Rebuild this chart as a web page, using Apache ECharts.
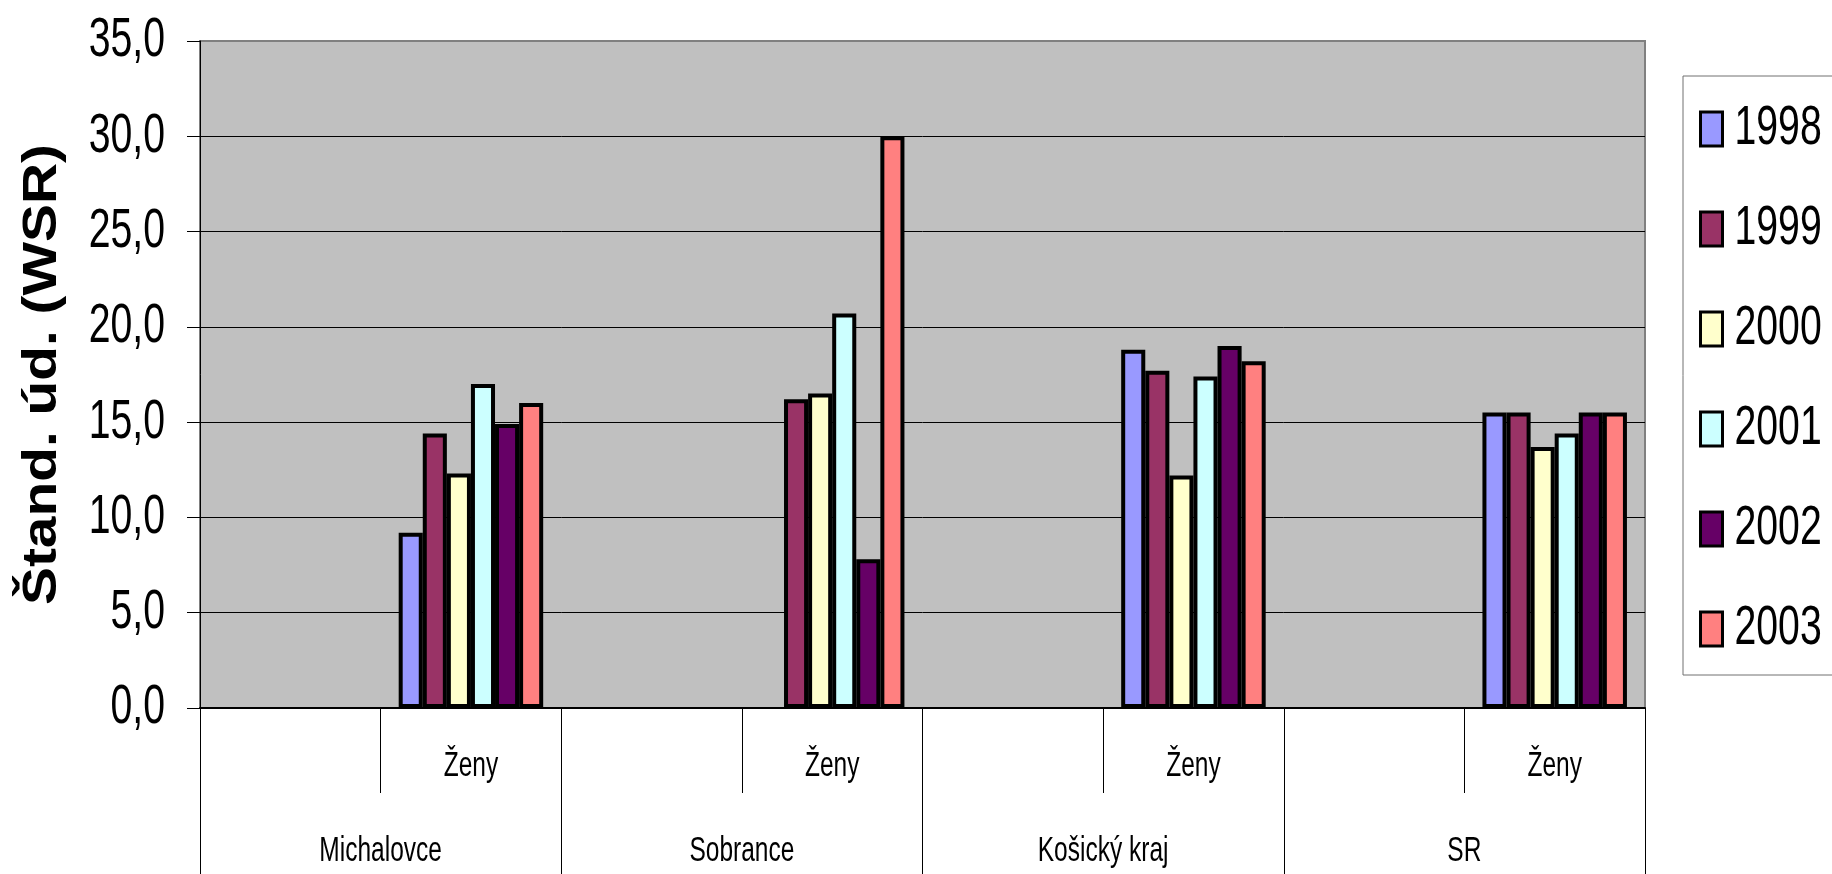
<!DOCTYPE html>
<html>
<head>
<meta charset="utf-8">
<script src="https://cdn.jsdelivr.net/npm/echarts@6/dist/echarts.min.js"></script>
<style>
  html, body { margin: 0; padding: 0; background: #ffffff; }
  #chart { width: 1832px; height: 874px; }
</style>
</head>
<body>
<div id="chart"></div>
<script>
// ---- data ----
const regions = ['Michalovce', 'Sobrance', 'Košický kraj', 'SR'];
const subCategories = ['', 'Ženy', '', 'Ženy', '', 'Ženy', '', 'Ženy'];
const years = ['1998', '1999', '2000', '2001', '2002', '2003'];
const v1998 = [null, 9.2, null, null, null, 18.8, null, 15.5];
const v1999 = [null, 14.4, null, 16.2, null, 17.7, null, 15.5];
const v2000 = [null, 12.3, null, 16.5, null, 12.2, null, 13.7];
const v2001 = [null, 17.0, null, 20.7, null, 17.4, null, 14.4];
const v2002 = [null, 14.9, null, 7.8, null, 19.0, null, 15.5];
const v2003 = [null, 16.0, null, 30.0, null, 18.2, null, 15.5];
const yearValues = [v1998, v1999, v2000, v2001, v2002, v2003];
const yearColors = ['#9999FF', '#993366', '#FFFFCC', '#CCFFFF', '#660066', '#FF8080'];
const yAxisTitle = 'Štand. úd. (WSR)';

const sans = "'Liberation Sans', Arial, sans-serif";

const chart = echarts.init(document.getElementById('chart'), null, { renderer: 'canvas' });

const series = years.map((y, i) => ({
  name: y,
  type: 'bar',
  xAxisIndex: 0,
  yAxisIndex: 0,
  data: yearValues[i],
  barGap: '0%',
  barCategoryGap: '20%',
  itemStyle: { color: yearColors[i], borderColor: '#000000', borderWidth: 4 },
  emphasis: { disabled: true },
  animation: false
}));

const option = {
  animation: false,
  grid: {
    left: 200, top: 41, right: 187, bottom: 166,
    outerBoundsMode: 'none',
    containLabel: false,
    show: true,
    backgroundColor: '#C0C0C0',
    borderColor: '#808080',
    borderWidth: 2
  },
  legend: {
    orient: 'vertical',
    left: 1683,
    top: 76,
    padding: [25, 200, 18, 16],
    itemGap: 44,
    itemWidth: 22,
    itemHeight: 34,
    backgroundColor: '#ffffff',
    borderColor: '#707070',
    borderWidth: 1,
    borderRadius: 0,
    icon: 'rect',
    selectedMode: false,
    itemStyle: { borderColor: '#000000', borderWidth: 3 },
    textStyle: { fontFamily: sans, fontSize: 56, color: '#000000', padding: [0, 0, 0, 10] },
    data: years
  },
  xAxis: [
    {
      type: 'category',
      gridIndex: 0,
      position: 'bottom',
      data: subCategories,
      axisLine: { show: true, lineStyle: { color: '#000000', width: 2 } },
      axisTick: { show: true, length: 85, lineStyle: { color: '#000000', width: 1 } },
      axisLabel: { interval: 0, margin: 41, fontFamily: sans, fontSize: 35, color: '#000000', lineHeight: 35 },
      splitLine: { show: false }
    },
    {
      type: 'category',
      gridIndex: 0,
      position: 'bottom',
      data: regions,
      axisLine: { show: false },
      axisTick: { show: true, length: 166, lineStyle: { color: '#000000', width: 1 } },
      axisLabel: { interval: 0, margin: 126, fontFamily: sans, fontSize: 35, color: '#000000', lineHeight: 35 },
      splitLine: { show: false }
    }
  ],
  yAxis: {
    type: 'value',
    min: 0,
    max: 35,
    interval: 5,
    name: yAxisTitle,
    nameLocation: 'middle',
    nameGap: 133,
    nameRotate: 90,
    nameMoveOverlap: false,
    nameTextStyle: { fontFamily: sans, fontWeight: 'bold', fontSize: 49, color: '#000000' },
    axisLine: { show: true, lineStyle: { color: '#000000', width: 1 } },
    axisTick: { show: true, inside: false, length: 13, lineStyle: { color: '#000000' } },
    axisLabel: {
      margin: 35,
      fontFamily: sans,
      fontSize: 56,
      color: '#000000',
      padding: [0, 0, 12, 0],
      formatter: v => v.toFixed(1).replace('.', ',')
    },
    splitLine: { show: true, showMaxLine: false, lineStyle: { color: '#000000', width: 1 } }
  },
  series: series
};

chart.setOption(option);

// The reference's lettering is tall and narrow (condensed); squeeze text horizontally.
(function squeezeTexts() {
  const zr = chart.getZr();
  const regionSet = new Set(regions);
  const yearSet = new Set(years);
  function walk(el) {
    if (el.type === 'text' && el.style && el.style.text != null) {
      const t = String(el.style.text);
      let s = null;
      if (t === yAxisTitle) s = 1.16;
      else if (/^\d+,\d$/.test(t) || yearSet.has(t) || t === 'Ženy' || regionSet.has(t)) s = 0.7;
      if (s !== null) {
        el.originX = el.style.x || 0;
        el.originY = el.style.y || 0;
        el.scaleX = s;
        el.markRedraw();
      }
    }
    if (el.isGroup) el.eachChild(walk);
  }
  zr.storage.getRoots().forEach(walk);
  zr.refreshImmediately();
})();
</script>
</body>
</html>
